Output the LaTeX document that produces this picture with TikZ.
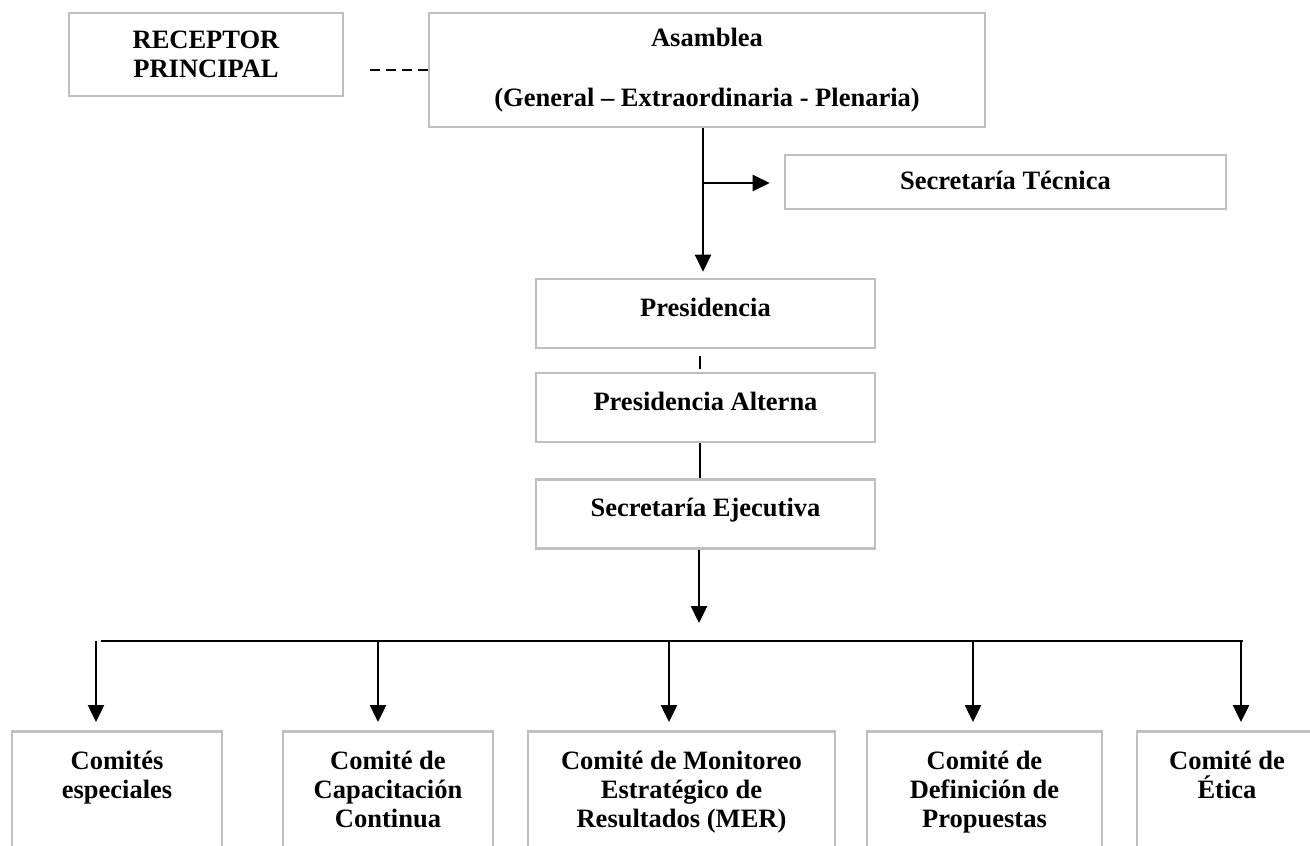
\documentclass[tikz,border=0pt]{standalone}
\usepackage{fontspec}
\setmainfont{Liberation Serif}
\usetikzlibrary{positioning,arrows.meta}

\definecolor{boxgray}{RGB}{191,191,191}

\tikzset{
  box/.style={draw=boxgray, line width=2.6pt, inner sep=0pt, align=center},
  midbox/.style={box, minimum width=339pt, text height=27pt, text depth=22pt, inner ysep=10pt},
  combox/.style={box, anchor=north, minimum height=150pt},
  comtext/.style={inner sep=0pt, align=center},
  link/.style={line width=2.5pt},
  arr/.style={link, -{Triangle[length=17pt,width=16pt]}}
}

\begin{document}
\begin{tikzpicture}[x=1pt, y=-1pt, font=\fontsize{26.5}{29}\selectfont\bfseries]
  \useasboundingbox (0,0) rectangle (1310,846);

  % Top level
  \node[box, minimum width=274pt, minimum height=83pt] (recep) at (206,54.5) {RECEPTOR\\PRINCIPAL};
  \node[box, minimum width=556pt, minimum height=114pt] (asam) at (707,70) {Asamblea\\[31pt](General – Extraordinaria - Plenaria)};
  \node[box, minimum width=441pt, minimum height=54pt, text depth=4pt] (sectec) at (1005.5,182) {Secretaría Técnica};

  % Central column
  \node[midbox] (pres) at (705.5,313.5) {Presidencia};
  \node[midbox] (alt) at (705.5,407.5) {Presidencia Alterna};
  \node[midbox] (ejec) at (705.5,514) {Secretaría Ejecutiva};

  % Committees
  \foreach \n/\x/\w/\txt in {
      esp/117/210/{Comités\\especiales},
      cap/388/210/{Comité de\\Capacitación\\Continua},
      mon/681.5/307/{Comité de Monitoreo\\Estratégico de\\Resultados (MER)},
      def/984.5/235/{Comité de\\Definición de\\Propuestas},
      eti/1227/180/{Comité de\\Ética}}
  {
    \node[combox, minimum width=\w pt] (\n) at (\x,730) {};
    \node[comtext, below=21pt of \n.north] (\n-txt) {\txt};
  }

  % Connectors
  \draw[link, dash pattern=on 10pt off 6pt, shorten >=25pt] (asam.west) -- (recep.east |- asam.west);

  \coordinate (fork) at (703,183);
  \draw[arr, shorten >=6pt] (asam.south -| fork) -- (pres.north -| fork);
  \draw[arr, shorten >=14pt] (fork) -- (fork -| sectec.west);

  \coordinate (spine) at (700,0);
  \draw[link, shorten <=7pt, shorten >=3pt] (pres.south -| spine) -- (alt.north -| spine);
  \draw[link] (alt.south -| spine) -- (ejec.north -| spine);

  \coordinate (split) at (699,641);
  \draw[arr, shorten >=18pt] (ejec.south -| split) -- (split);

  \coordinate (barL) at (101,641);
  \coordinate (barR) at (1243,641);
  \draw[link] (barL) -- (barR);

  \foreach \x/\n in {96/esp, 378/cap, 669/mon, 973/def, 1241/eti}
  {
    \coordinate (t\n) at (\x,641);
    \draw[arr, shorten >=8pt] (t\n) -- (t\n |- \n.north);
  }
\end{tikzpicture}
\end{document}
